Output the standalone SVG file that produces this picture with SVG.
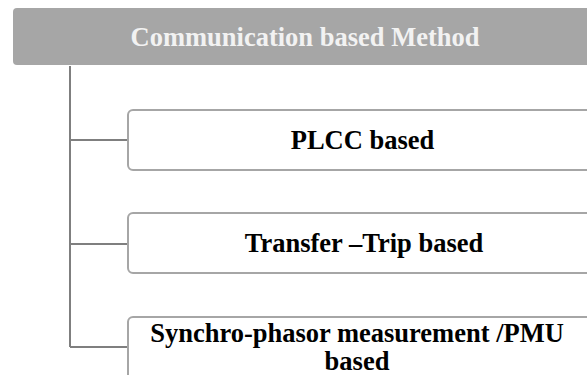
<svg xmlns="http://www.w3.org/2000/svg" width="587" height="375" viewBox="0 0 587 375">
  <style>
    .hdr { fill: #a6a6a6; }
    .box { fill: #ffffff; stroke: #a6a6a6; stroke-width: 2; }
    .wire { fill: none; stroke: #7f7f7f; stroke-width: 2; }
    .t { font-family: "Liberation Serif", "Times New Roman", serif; font-weight: bold; font-size: 26.5px; text-anchor: middle; }
    .th { fill: #f2f2f2; }
    .tb { fill: #000000; }
  </style>
  <rect width="587" height="375" fill="#ffffff"/>
  <g id="connectors">
    <path class="wire" d="M70,66 V347 M70,140 H128 M70,244 H128 M70,347 H128"/>
  </g>
  <g id="header">
    <rect class="hdr" x="13" y="8" width="590" height="57" rx="4"/>
    <text class="t th" x="305" y="45.5">Communication based Method</text>
  </g>
  <g id="plcc">
    <rect class="box" x="128" y="110" width="480" height="60" rx="5"/>
    <text class="t tb" x="362.5" y="148.5">PLCC based</text>
  </g>
  <g id="transfer-trip">
    <rect class="box" x="128" y="213" width="480" height="60" rx="5"/>
    <text class="t tb" x="364" y="252">Transfer –Trip based</text>
  </g>
  <g id="pmu">
    <rect class="box" x="128" y="317" width="480" height="80" rx="5"/>
    <text class="t tb" x="357" y="341.5">Synchro-phasor measurement /PMU</text>
    <text class="t tb" x="357" y="370">based</text>
  </g>
</svg>
